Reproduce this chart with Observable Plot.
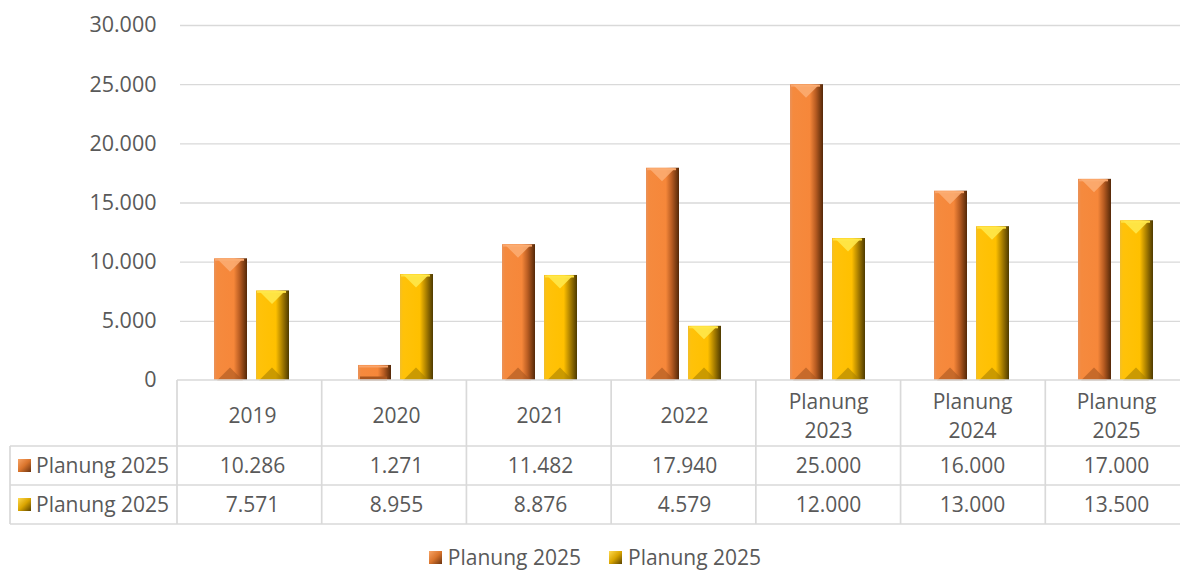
<!DOCTYPE html>
<html>
<head>
<meta charset="utf-8">
<script src="https://cdn.jsdelivr.net/npm/d3@7"></script>
<script src="https://cdn.jsdelivr.net/npm/@observablehq/plot@0.6"></script>
<style>
  html, body { margin: 0; padding: 0; background: #fff; overflow: hidden; }
  #wrap { width: 1190px; font-family: "Open Sans", sans-serif; color: #595959; }
  #legend { display: flex; justify-content: center; align-items: center; margin-top: 13px; font-size: 21px; line-height: 28px; }
  .item { display: flex; align-items: center; margin: 0 14px; }
  .sw { display: inline-block; width: 13px; height: 13px; margin-right: 6px; }
</style>
</head>
<body>
<div id="wrap"></div>
<script>
// ---- data ----
const categories = ["2019", "2020", "2021", "2022", "Planung\n2023", "Planung\n2024", "Planung\n2025"];
const seriesKeys = ["A", "B"];
const seriesLabels = ["Planung 2025", "Planung 2025"];
const valuesA = [10286, 1271, 11482, 17940, 25000, 16000, 17000];
const valuesB = [7571, 8955, 8876, 4579, 12000, 13000, 13500];
const yTicks = [0, 5000, 10000, 15000, 20000, 25000, 30000];

const dataA = categories.map((c, i) => ({cat: c, s: "A", v: valuesA[i]}));
const dataB = categories.map((c, i) => ({cat: c, s: "B", v: valuesB[i]}));

const de = d3.formatLocale({decimal: ",", thousands: ".", grouping: [3], currency: ["", " €"]});
const fmt = de.format(",d");

const gridColor = "#D9D9D9";
const textColor = "#595959";

// bevel glyphs (shape only; placed by the scales)
const bevelDown = {draw(ctx) { ctx.moveTo(-13, -7); ctx.lineTo(13, -7); ctx.lineTo(0, 6); ctx.closePath(); }};
const bevelUp = {draw(ctx) { ctx.moveTo(-13, 7); ctx.lineTo(13, 7); ctx.lineTo(0, -6); ctx.closePath(); }};

const defs = () => {
  const g = d3.create("svg:defs");
  g.html(`
    <linearGradient id="gA" x1="0" x2="1" y1="0" y2="0">
      <stop offset="0%" stop-color="#E9925A"/>
      <stop offset="9%" stop-color="#F58A3E"/>
      <stop offset="60%" stop-color="#F6873A"/>
      <stop offset="78%" stop-color="#B85C22"/>
      <stop offset="100%" stop-color="#542808"/>
    </linearGradient>
    <linearGradient id="gB" x1="0" x2="1" y1="0" y2="0">
      <stop offset="0%" stop-color="#F2BE2A"/>
      <stop offset="9%" stop-color="#FFC20A"/>
      <stop offset="60%" stop-color="#FFC000"/>
      <stop offset="78%" stop-color="#B08400"/>
      <stop offset="100%" stop-color="#4E3A00"/>
    </linearGradient>
    <linearGradient id="sA" x1="0" x2="1" y1="0" y2="1">
      <stop offset="0%" stop-color="#F8A466"/>
      <stop offset="50%" stop-color="#D9742C"/>
      <stop offset="100%" stop-color="#6B3310"/>
    </linearGradient>
    <linearGradient id="sB" x1="0" x2="1" y1="0" y2="1">
      <stop offset="0%" stop-color="#FFDA50"/>
      <stop offset="50%" stop-color="#D9A400"/>
      <stop offset="100%" stop-color="#5A4300"/>
    </linearGradient>`);
  return g.node();
};

const plot = Plot.plot({
  width: 1190,
  height: 530,
  marginLeft: 177,
  marginRight: 0,
  marginTop: 25,
  marginBottom: 150,
  style: {fontFamily: "Open Sans", fontSize: "21px", color: textColor, background: "white", overflow: "visible"},
  fx: {domain: categories, padding: 0, axis: null, label: null},
  x: {domain: seriesKeys, paddingInner: 0.213, paddingOuter: 0.8, axis: null, label: null},
  y: {domain: [0, 30000], axis: null},
  marks: [
    defs,
    Plot.gridY(yTicks.filter(t => t > 0), {stroke: gridColor, strokeOpacity: 1, strokeWidth: 1.4}),
    Plot.axisY(yTicks, {tickFormat: fmt, tickSize: 0, tickPadding: 24, fontSize: 21.5, label: null, fill: textColor}),
    Plot.barY(dataA, {fx: "cat", x: "s", y: "v", fill: "url(#gA)"}),
    Plot.barY(dataB, {fx: "cat", x: "s", y: "v", fill: "url(#gB)"}),
    // bevel highlights
    Plot.tickY(dataA, {fx: "cat", x: "s", y: "v", stroke: "#F9A56C", strokeWidth: 2, dy: 1, insetLeft: 1, insetRight: 3}),
    Plot.tickY(dataB, {fx: "cat", x: "s", y: "v", stroke: "#FFE040", strokeWidth: 2, dy: 1, insetLeft: 1, insetRight: 3}),
    Plot.dot(dataA.filter(d => d.v > 2500), {fx: "cat", x: "s", y: "v", symbol: bevelDown, dx: -1, dy: 7, fill: "#FBAE74", fillOpacity: 0.85, stroke: "none"}),
    Plot.dot(dataB.filter(d => d.v > 2500), {fx: "cat", x: "s", y: "v", symbol: bevelDown, dx: -1, dy: 7, fill: "#FFE84A", fillOpacity: 0.9, stroke: "none"}),
    Plot.dot(dataA.filter(d => d.v > 2500), {fx: "cat", x: "s", y: 0, symbol: bevelUp, dx: -1, dy: -7, fill: "#A9561F", fillOpacity: 0.6, stroke: "none"}),
    Plot.dot(dataB.filter(d => d.v > 2500), {fx: "cat", x: "s", y: 0, symbol: bevelUp, dx: -1, dy: -7, fill: "#A88000", fillOpacity: 0.6, stroke: "none"}),
    Plot.tickY(dataA.filter(d => d.v <= 2500), {fx: "cat", x: "s", y: 0, stroke: "#A9561F", strokeWidth: 4, dy: -2, insetLeft: 2, insetRight: 4}),
    // table header (category labels)
    Plot.text(categories, {fx: d => d, text: d => d, frameAnchor: "bottom", dy: 33.5, lineAnchor: "middle", lineHeight: 1.4, fill: textColor}),
    // table rows
    Plot.text(dataA, {fx: "cat", text: d => fmt(d.v), frameAnchor: "bottom", dy: 85.5, lineAnchor: "middle", fill: textColor}),
    Plot.text(dataB, {fx: "cat", text: d => fmt(d.v), frameAnchor: "bottom", dy: 124.5, lineAnchor: "middle", fill: textColor})
  ]
});

// ---- table grid drawn from the plot's scales ----
const fxS = plot.scale("fx");
const band = d3.scaleBand().domain(fxS.domain).range(fxS.range).padding(0);
const yS = plot.scale("y");
const y0 = yS.apply ? yS.apply(0) : 380;
const xL = band.range()[0], xR = band.range()[1];
const rowH = [66, 39, 39];
const yHead = y0 + rowH[0], yR1 = yHead + rowH[1], yR2 = yR1 + rowH[2];
const leftX = 10;
const svg = d3.select(plot);
const g = svg.append("g").attr("stroke", gridColor).attr("stroke-width", 1.7).attr("fill", "none");
g.append("line").attr("x1", xL).attr("x2", xR).attr("y1", y0).attr("y2", y0);
[yHead, yR1, yR2].forEach(yy => g.append("line").attr("x1", leftX).attr("x2", xR).attr("y1", yy).attr("y2", yy));
band.domain().forEach(c => {
  const x = band(c);
  g.append("line").attr("x1", x).attr("x2", x).attr("y1", y0).attr("y2", yR2);
});
g.append("line").attr("x1", xR).attr("x2", xR).attr("y1", y0).attr("y2", yR2);
g.append("line").attr("x1", leftX).attr("x2", leftX).attr("y1", yHead).attr("y2", yR2);

// row labels with swatches
const rows = [{y: (yHead + yR1) / 2, fill: "url(#sA)", label: seriesLabels[0]}, {y: (yR1 + yR2) / 2, fill: "url(#sB)", label: seriesLabels[1]}];
rows.forEach(r => {
  svg.append("rect").attr("x", 18).attr("y", r.y - 6.5).attr("width", 13).attr("height", 13).attr("fill", r.fill);
  svg.append("text").attr("x", 36).attr("y", r.y).attr("dy", "0.35em").attr("fill", textColor)
    .attr("text-anchor", "start")
    .attr("font-family", "Open Sans").attr("font-size", 21).text(r.label);
});

const wrap = document.getElementById("wrap");
wrap.appendChild(plot);

// legend
const legend = document.createElement("div");
legend.id = "legend";
const swCss = [
  "linear-gradient(135deg, #F8A466 0%, #D9742C 50%, #6B3310 100%)",
  "linear-gradient(135deg, #FFDA50 0%, #D9A400 50%, #5A4300 100%)"
];
seriesLabels.forEach((lab, i) => {
  const it = document.createElement("span");
  it.className = "item";
  const sw = document.createElement("span");
  sw.className = "sw";
  sw.style.background = swCss[i];
  it.appendChild(sw);
  it.appendChild(document.createTextNode(lab));
  legend.appendChild(it);
});
wrap.appendChild(legend);
</script>
</body>
</html>
